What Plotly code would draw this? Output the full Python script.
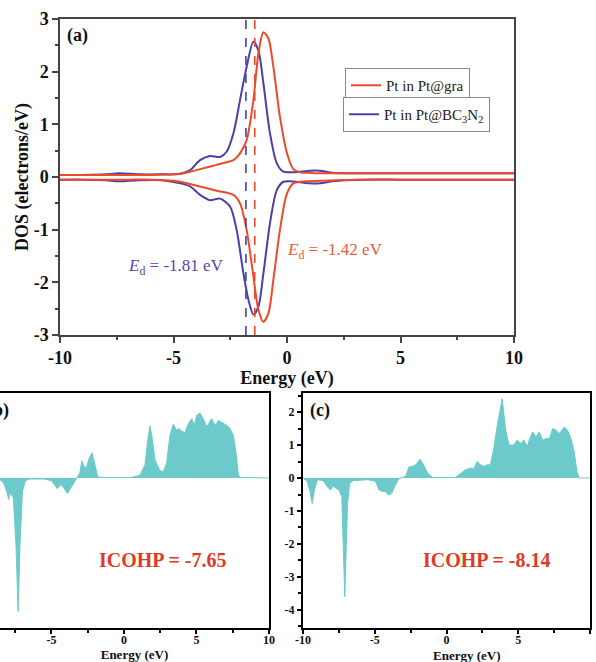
import plotly.graph_objects as go

# ---------------- data ----------------
# (a) projected DOS, spin up / spin down
gra_up_E = [-10, -9, -8, -7, -6, -5, -4.7, -4.27, -3.83, -3.1, -2.66, -2.36, -2.07, -1.78, -1.48, -1.26, -1.04, -0.82, -0.6, -0.31, 0.0, 0.28, 0.57, 1.0, 1.5, 2.2, 3, 5, 7, 10]
gra_up = [0.04, 0.04, 0.04, 0.04, 0.04, 0.05, 0.06, 0.1, 0.15, 0.23, 0.28, 0.32, 0.45, 0.70, 1.46, 2.35, 2.75, 2.63, 2.09, 1.14, 0.45, 0.15, 0.09, 0.08, 0.07, 0.07, 0.07, 0.07, 0.07, 0.07]
gra_dn_E = [-10, -9, -8, -7, -6, -5, -4.7, -3.83, -3.1, -2.36, -2.07, -1.78, -1.48, -1.26, -1.04, -0.82, -0.6, -0.31, 0.0, 0.28, 0.57, 1.0, 1.5, 2.2, 3, 5, 7, 10]
gra_dn = [-0.05, -0.05, -0.05, -0.05, -0.05, -0.07, -0.09, -0.18, -0.26, -0.34, -0.5, -1.0, -1.89, -2.52, -2.75, -2.59, -1.95, -1.0, -0.31, -0.12, -0.09, -0.08, -0.07, -0.06, -0.05, -0.05, -0.05, -0.05]

bcn_up_E = [-10, -9, -8, -7.4, -6.5, -5.5, -4.7, -4.27, -3.83, -3.39, -2.95, -2.66, -2.36, -2.07, -1.78, -1.48, -1.26, -1.04, -0.75, -0.45, -0.16, 0.13, 0.6, 1.0, 1.45, 2.0, 2.6, 3.5, 5, 7, 10]
bcn_up = [0.04, 0.04, 0.05, 0.07, 0.05, 0.05, 0.06, 0.13, 0.32, 0.40, 0.38, 0.48, 0.83, 1.46, 2.09, 2.57, 2.40, 1.78, 0.83, 0.26, 0.10, 0.09, 0.10, 0.12, 0.12, 0.08, 0.07, 0.07, 0.07, 0.07, 0.07]
bcn_dn_E = [-10, -9, -8, -7.4, -6.5, -5.5, -4.7, -4.27, -3.83, -3.39, -2.95, -2.51, -2.22, -1.92, -1.7, -1.48, -1.26, -1.04, -0.75, -0.45, -0.16, 0.13, 0.6, 1.0, 1.45, 2.0, 2.6, 3.5, 5, 7, 10]
bcn_dn = [-0.05, -0.05, -0.06, -0.08, -0.06, -0.06, -0.12, -0.18, -0.34, -0.44, -0.41, -0.56, -1.0, -1.83, -2.33, -2.61, -2.46, -1.83, -0.88, -0.25, -0.09, -0.08, -0.10, -0.12, -0.12, -0.08, -0.06, -0.05, -0.05, -0.05, -0.05]

ed_values = [-1.42, -1.81]          # d-band centres: Pt@gra, Pt@BC3N2
series_names = ["Pt in Pt@gra", "Pt in Pt@BC<sub>3</sub>N<sub>2</sub>"]

# (b) -COHP Pt@gra
b_E = [-8.55, -8.3, -8.09, -7.95, -7.86, -7.63, -7.45, -7.3, -7.17, -7.0, -6.8, -6.5, -5.5, -5.0, -4.8, -4.6, -4.35, -4.15, -3.9, -3.6, -3.25, -3.05, -2.9, -2.75, -2.6, -2.4, -2.2, -2.0, -1.8, -1.0, 0.5, 1.1, 1.45, 1.65, 1.8, 1.95, 2.14, 2.48, 2.71, 2.94, 3.17, 3.4, 3.63, 3.8, 3.98, 4.21, 4.44, 4.67, 4.85, 5.01, 5.24, 5.4, 5.52, 5.70, 5.88, 6.05, 6.2, 6.34, 6.5, 6.62, 6.8, 6.97, 7.15, 7.31, 7.54, 7.72, 7.89, 8.0, 9.0, 10.0]
b_val = [-0.05, -0.15, -0.4, -0.65, -0.45, -0.6, -2.0, -4.05, -2.0, -0.4, -0.08, -0.03, -0.03, -0.08, -0.2, -0.32, -0.2, -0.3, -0.47, -0.25, -0.02, 0.15, 0.52, 0.35, 0.3, 0.6, 0.76, 0.35, 0.03, 0.01, 0.02, 0.08, 0.4, 1.2, 1.58, 1.2, 0.55, 0.22, 0.2, 0.45, 1.3, 1.63, 1.45, 1.5, 1.42, 1.38, 1.65, 1.8, 1.6, 1.9, 1.97, 1.85, 1.75, 1.55, 1.7, 1.8, 1.65, 1.6, 1.75, 1.72, 1.65, 1.62, 1.58, 1.5, 1.3, 0.8, 0.1, 0.02, 0.01, 0.0]

# (c) -COHP Pt@BC3N2
c_E = [-10, -9.7, -9.5, -9.36, -9.2, -9.0, -8.6, -8.32, -8.08, -7.9, -7.7, -7.5, -7.3, -7.09, -6.9, -6.75, -6.5, -5.5, -4.95, -4.7, -4.5, -4.27, -4.03, -3.8, -3.55, -3.32, -2.86, -2.6, -2.37, -2.14, -1.84, -1.6, -1.32, -0.98, 0.63, 0.98, 1.33, 1.67, 1.9, 2.14, 2.37, 2.6, 2.83, 3.06, 3.3, 3.5, 3.65, 3.88, 4.11, 4.35, 4.7, 4.93, 5.16, 5.4, 5.63, 5.8, 6.0, 6.24, 6.47, 6.7, 6.94, 7.17, 7.4, 7.63, 7.86, 8.21, 8.44, 8.67, 8.9, 9.09, 9.25, 10]
c_val = [0.0, -0.1, -0.45, -0.77, -0.35, -0.05, -0.08, -0.26, -0.36, -0.24, -0.31, -0.36, -0.57, -3.6, -0.8, -0.16, -0.08, -0.05, -0.1, -0.36, -0.4, -0.41, -0.52, -0.45, -0.2, -0.02, 0.05, 0.34, 0.35, 0.4, 0.57, 0.4, 0.15, 0.02, 0.02, 0.15, 0.25, 0.3, 0.28, 0.5, 0.4, 0.35, 0.4, 0.4, 0.9, 1.5, 1.9, 2.41, 1.5, 1.0, 1.0, 1.15, 1.05, 1.15, 0.95, 1.2, 1.4, 1.25, 1.4, 1.15, 1.2, 1.2, 1.5, 1.45, 1.35, 1.55, 1.45, 1.2, 0.8, 0.2, 0.0, 0.0]

icohp_labels = ["ICOHP = -7.65", "ICOHP = -8.14"]

# tick labels (plain hyphen minus as in the figure)
energy_ticks = [-10, -5, 0, 5, 10]
energy_ticktext = ["-10", "-5", "0", "5", "10"]
dos_ticks = [-3, -2, -1, 0, 1, 2, 3]
dos_ticktext = ["-3", "-2", "-1", "0", "1", "2", "3"]
cohp_ticks = [-4, -3, -2, -1, 0, 1, 2]
cohp_ticktext = ["-4", "-3", "-2", "-1", "0", "1", "2"]

# ---------------- styling ----------------
FONT = "Liberation Serif, Times New Roman, serif"
RED = "#EC4A2A"
BLUE = "#4B40A8"
TEAL = "#6CCACA"
FRAME_A = "#444444"

fig = go.Figure()

# (a) curves
fig.add_trace(go.Scatter(x=bcn_up_E, y=bcn_up, mode="lines", name=series_names[1],
                         line=dict(color=BLUE, width=2, shape="spline", smoothing=0.8),
                         legend="legend2", legendgroup="bcn", xaxis="x", yaxis="y"))
fig.add_trace(go.Scatter(x=bcn_dn_E, y=bcn_dn, mode="lines", name=series_names[1], showlegend=False,
                         line=dict(color=BLUE, width=2, shape="spline", smoothing=0.8),
                         legend="legend2", legendgroup="bcn", xaxis="x", yaxis="y"))
fig.add_trace(go.Scatter(x=gra_up_E, y=gra_up, mode="lines", name=series_names[0],
                         line=dict(color=RED, width=2, shape="spline", smoothing=0.8),
                         legend="legend", legendgroup="gra", xaxis="x", yaxis="y"))
fig.add_trace(go.Scatter(x=gra_dn_E, y=gra_dn, mode="lines", name=series_names[0], showlegend=False,
                         line=dict(color=RED, width=2, shape="spline", smoothing=0.8),
                         legend="legend", legendgroup="gra", xaxis="x", yaxis="y"))

# d-band centre lines
for ed, col in zip(ed_values, [RED, BLUE]):
    fig.add_shape(type="line", xref="x", yref="y domain", x0=ed, x1=ed, y0=0, y1=1,
                  line=dict(color=col, width=1.6, dash="dash"))

# (b) and (c) COHP fills
fig.add_trace(go.Scatter(x=b_E, y=b_val, mode="lines", fill="tozeroy", fillcolor=TEAL,
                         line=dict(color=TEAL, width=1), showlegend=False, xaxis="x2", yaxis="y2"))
fig.add_trace(go.Scatter(x=c_E, y=c_val, mode="lines", fill="tozeroy", fillcolor=TEAL,
                         line=dict(color=TEAL, width=1), showlegend=False, xaxis="x3", yaxis="y3"))

boldA = dict(family=FONT, size=18, color="#111", weight="bold")
boldB = dict(family=FONT, size=12, color="#111", weight="bold")

axA = dict(showline=True, mirror=True, linecolor=FRAME_A, linewidth=1.5, ticks="outside",
           ticklen=6, tickwidth=1.5, tickcolor=FRAME_A, showgrid=False, zeroline=False,
           tickfont=boldA, automargin=False, tickmode="array")
axB = dict(showline=True, mirror=True, linecolor="#000", linewidth=2, ticks="outside",
           ticklen=4, tickwidth=1.5, tickcolor="#000", showgrid=False, zeroline=False,
           tickfont=boldB, automargin=False, tickmode="array")

fig.update_layout(
    width=596, height=662,
    margin=dict(l=0, r=6, t=19, b=34, autoexpand=False),
    paper_bgcolor="white", plot_bgcolor="white",
    font=dict(family=FONT, color="#111"),
    xaxis=dict(axA, domain=[0.1017, 0.8712], anchor="y", range=[-10, 10],
               tickvals=energy_ticks, ticktext=energy_ticktext,
               minor=dict(tickmode="linear", tick0=0, dtick=2.5, ticklen=3, ticks="outside", tickcolor=FRAME_A),
               title=dict(text="Energy (eV)", font=dict(family=FONT, size=18, color="#111", weight="bold"), standoff=2)),
    yaxis=dict(axA, domain=[0.4811, 1.0], anchor="x", range=[-3, 3],
               tickvals=dos_ticks, ticktext=dos_ticktext,
               minor=dict(tickmode="linear", tick0=0, dtick=0.5, ticklen=3, ticks="outside", tickcolor=FRAME_A),
               title=dict(text="DOS (electrons/eV)", font=dict(family=FONT, size=18, color="#111", weight="bold"), standoff=0)),
    xaxis2=dict(axB, domain=[0, 0.4559], anchor="y2", range=[-8.55, 10],
                tickvals=energy_ticks, ticktext=energy_ticktext, ticklabelstandoff=-4,
                minor=dict(tickmode="linear", tick0=0, dtick=2.5, ticklen=3, ticks="outside", tickcolor="#000"),
                title=dict(text="Energy (eV)", font=dict(family=FONT, size=13, color="#111", weight="bold"), standoff=3)),
    yaxis2=dict(domain=[0, 0.3859], anchor="x2", range=[-4.55, 2.58], side="right",
                showline=True, linecolor="#000", linewidth=2, showticklabels=False, ticks="",
                showgrid=False, zeroline=False, automargin=False),
    xaxis3=dict(axB, domain=[0.5136, 1.0], anchor="y3", range=[-10, 10],
                tickvals=energy_ticks, ticktext=energy_ticktext, ticklabelstandoff=-4,
                minor=dict(tickmode="linear", tick0=0, dtick=2.5, ticklen=3, ticks="outside", tickcolor="#000")),
    yaxis3=dict(axB, domain=[0, 0.3859], anchor="x3", range=[-4.55, 2.58],
                tickvals=cohp_ticks, ticktext=cohp_ticktext,
                minor=dict(tickmode="linear", tick0=0, dtick=0.5, ticklen=3, ticks="outside", tickcolor="#000")),
    legend=dict(x=0.5847, y=0.9195, xanchor="left", yanchor="top", bgcolor="white",
                bordercolor="#888", borderwidth=1, itemwidth=30,
                font=dict(family=FONT, size=15, color="#222")),
    legend2=dict(x=0.5814, y=0.8719, xanchor="left", yanchor="top", bgcolor="white",
                 bordercolor="#888", borderwidth=1, itemwidth=30,
                 font=dict(family=FONT, size=15, color="#222")),
)

def note(text, px, py, size, color, xanchor="center"):
    return dict(text=text, x=px / 590, y=(628 - py) / 609, xref="paper", yref="paper",
                xanchor=xanchor, yanchor="middle", showarrow=False,
                font=dict(family=FONT, size=size, color=color))

ann = [
    note("<b>(a)</b>", 77, 36, 18, "#111"),
    note("<b>(b)</b>", 11, 410, 18, "#111", xanchor="right"),
    note("<b>(c)</b>", 320, 410, 18, "#111"),
    note("<i>E</i><sub>d</sub> = %.2f eV" % ed_values[1], 176, 267, 17, "#5546B0"),
    note("<i>E</i><sub>d</sub> = %.2f eV" % ed_values[0], 335, 251, 17, "#E65A3C"),
    note("<b>%s</b>" % icohp_labels[0], 163, 560, 20, "#E03A26"),
    note("<b>%s</b>" % icohp_labels[1], 487, 560, 20, "#E03A26"),
    note("<b>Energy (eV)</b>", 467, 655, 13, "#111"),
]
fig.update_layout(annotations=ann)

fig.write_html("out.html", config={"displayModeBar": False},
               post_script="document.body.style.margin='0';document.body.style.overflow='hidden';")
